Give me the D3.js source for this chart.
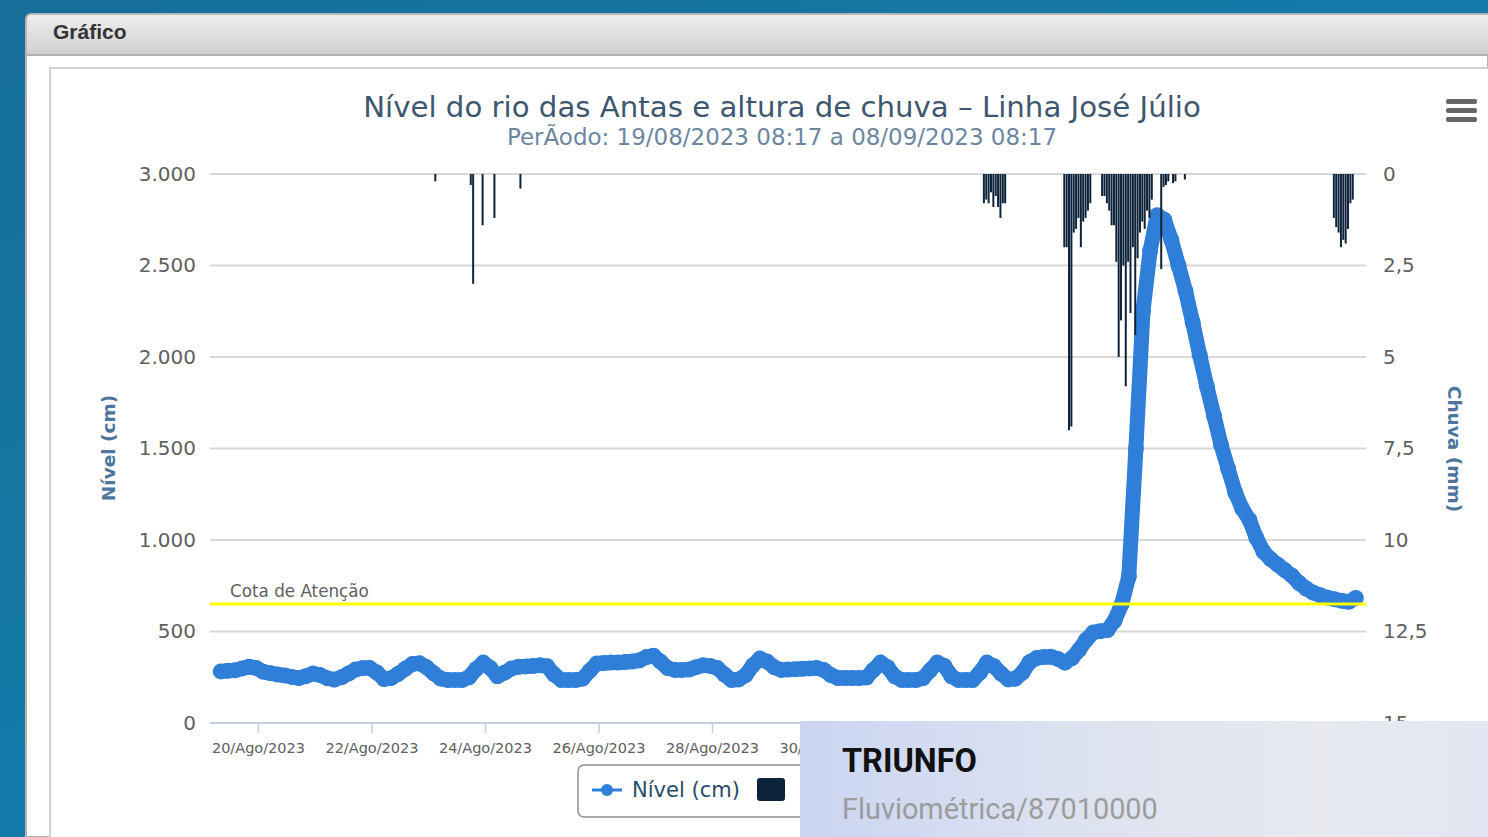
<!DOCTYPE html>
<html lang="pt-BR">
<head>
<meta charset="UTF-8">
<title>Gráfico</title>
<style>
  body { margin: 0; width: 1488px; height: 837px; overflow: hidden; background: #1479a6; }
  svg { display: block; }
</style>
</head>
<body>
<script src="https://cdn.jsdelivr.net/npm/d3@7"></script>
<script>

var titulo = "Nível do rio das Antas e altura de chuva – Linha José Júlio";
var subtitulo = "PerÃodo: 19/08/2023 08:17 a 08/09/2023 08:17";
var inicio = "2023-08-19 08:17", fim = "2023-09-08 08:17";
var passoHoras = 3;

// nivel (cm), one reading every 3 h from the start of the period
var nivelCm = [
  282,285,288,298,308,300,280,272,265,260,
  252,246,256,270,262,245,237,250,270,292,
  300,300,276,240,245,268,296,322,326,305,
  272,243,235,235,235,250,295,330,300,255,
  275,298,307,309,312,315,310,265,235,235,
  235,242,285,325,328,330,330,333,336,342,
  360,368,335,300,290,290,292,305,315,312,
  300,265,235,238,262,315,352,336,305,290,
  292,294,296,298,300,290,262,246,246,246,
  246,248,290,330,305,255,235,235,235,245,
  288,330,312,255,235,235,235,275,330,310,
  270,238,242,275,332,355,360,362,350,330,
  355,400,455,495,502,508,560,650,800,1500,
  2250,2580,2775,2750,2640,2500,2360,2190,2010,1840,
  1680,1520,1390,1260,1170,1110,1010,935,895,865,
  835,805,765,735,712,698,685,676,668,662,
  683
];

// chuva (mm), hourly, only hours with rain
var chuva = [
  ["2023-08-23 03:00",0.2],["2023-08-23 18:00",0.3],["2023-08-23 19:00",3.0],
  ["2023-08-23 23:00",1.4],["2023-08-24 04:00",1.2],["2023-08-24 15:00",0.4],
  ["2023-09-01 19:00",0.8],["2023-09-01 20:00",0.7],["2023-09-01 21:00",0.8],
  ["2023-09-01 22:00",0.5],["2023-09-01 23:00",0.9],["2023-09-02 00:00",0.6],
  ["2023-09-02 01:00",0.9],["2023-09-02 02:00",1.2],["2023-09-02 03:00",0.8],
  ["2023-09-02 04:00",0.8],
  ["2023-09-03 05:00",2.0],["2023-09-03 06:00",2.0],["2023-09-03 07:00",7.0],
  ["2023-09-03 08:00",6.9],["2023-09-03 09:00",1.6],["2023-09-03 10:00",1.5],
  ["2023-09-03 11:00",1.2],["2023-09-03 12:00",2.0],["2023-09-03 13:00",1.3],
  ["2023-09-03 14:00",1.2],["2023-09-03 15:00",1.0],["2023-09-03 16:00",0.8],
  ["2023-09-03 21:00",0.6],["2023-09-03 22:00",0.6],["2023-09-03 23:00",0.8],
  ["2023-09-04 00:00",1.0],["2023-09-04 01:00",1.4],["2023-09-04 02:00",1.4],
  ["2023-09-04 03:00",2.4],["2023-09-04 04:00",5.0],["2023-09-04 05:00",4.0],
  ["2023-09-04 06:00",2.5],["2023-09-04 07:00",5.8],["2023-09-04 08:00",2.4],
  ["2023-09-04 09:00",3.8],["2023-09-04 10:00",2.0],["2023-09-04 11:00",4.4],
  ["2023-09-04 12:00",2.3],["2023-09-04 13:00",1.6],["2023-09-04 14:00",1.3],
  ["2023-09-04 15:00",1.5],["2023-09-04 16:00",1.0],["2023-09-04 17:00",1.2],
  ["2023-09-04 18:00",0.7],
  ["2023-09-04 22:00",2.6],["2023-09-04 23:00",0.35],["2023-09-05 00:00",0.3],
  ["2023-09-05 01:00",0.2],["2023-09-05 03:00",0.25],["2023-09-05 04:00",0.2],
  ["2023-09-05 08:00",0.15],
  ["2023-09-07 23:00",1.2],["2023-09-08 00:00",1.45],["2023-09-08 01:00",1.6],
  ["2023-09-08 02:00",2.0],["2023-09-08 03:00",1.8],["2023-09-08 04:00",1.9],
  ["2023-09-08 05:00",1.5],["2023-09-08 06:00",0.8],["2023-09-08 07:00",0.7]
];

var ticksNivel = [0, 500, 1000, 1500, 2000, 2500, 3000];
var ticksChuva = [0, 2.5, 5, 7.5, 10, 12.5, 15];
var diasX = ["2023-08-20","2023-08-22","2023-08-24","2023-08-26","2023-08-28",
             "2023-08-30","2023-09-01","2023-09-03","2023-09-05","2023-09-07"];
var meses = ["Jan","Fev","Mar","Abr","Mai","Jun","Jul","Ago","Set","Out","Nov","Dez"];
var cotaAtencao = 650;

var W = 1488, H = 837;
var cardX = 800, cardY = 721;
var parse = d3.timeParse("%Y-%m-%d %H:%M");
var parseDia = d3.timeParse("%Y-%m-%d");
var t0 = parse(inicio), t1 = parse(fim);
var br = d3.formatLocale({decimal: ",", thousands: ".", grouping: [3], currency: ["R$", ""]});

var svg = d3.select("body").append("svg").attr("width", W).attr("height", H);
var defs = svg.append("defs");

var bg = defs.append("linearGradient").attr("id", "bg").attr("x1", 0).attr("y1", 0).attr("x2", 1).attr("y2", 1);
bg.append("stop").attr("offset", "0%").attr("stop-color", "#166f99");
bg.append("stop").attr("offset", "100%").attr("stop-color", "#1287b8");
var hd = defs.append("linearGradient").attr("id", "hd").attr("x1", 0).attr("y1", 0).attr("x2", 0).attr("y2", 1);
hd.append("stop").attr("offset", "0%").attr("stop-color", "#eeeeee");
hd.append("stop").attr("offset", "100%").attr("stop-color", "#d0d0d0");
var card = defs.append("linearGradient").attr("id", "card");
card.append("stop").attr("offset", "0%").attr("stop-color", "#cad5f2");
card.append("stop").attr("offset", "40%").attr("stop-color", "#dde2f0");
card.append("stop").attr("offset", "75%").attr("stop-color", "#e7e9ef");
card.append("stop").attr("offset", "100%").attr("stop-color", "#e2e7f3");

svg.append("rect").attr("width", W).attr("height", H).attr("fill", "url(#bg)");

// panel
svg.append("path")
  .attr("d", "M26,837 L26,20 Q26,14 32,14 L1488,14 L1488,837 Z")
  .attr("fill", "#fff").attr("stroke", "#b5b5b5").attr("stroke-width", 2);
svg.append("path")
  .attr("d", "M27,55 L27,20 Q27,15 32,15 L1488,15 L1488,55 Z")
  .attr("fill", "url(#hd)");
svg.append("line").attr("x1", 27).attr("x2", W).attr("y1", 55).attr("y2", 55)
  .attr("stroke", "#b0b0b0").attr("stroke-width", 2);
svg.append("text").attr("x", 53).attr("y", 39)
  .attr("font-family", "Liberation Sans, Arial, sans-serif").attr("font-weight", "bold")
  .attr("font-size", 21).attr("fill", "#333").text("Gráfico");

svg.append("rect").attr("x", 50).attr("y", 68).attr("width", 1460).attr("height", 800)
  .attr("fill", "#fff").attr("stroke", "#d2d2d2").attr("stroke-width", 2);

var font = "DejaVu Sans, Verdana, sans-serif";

function ajustar(sel, largura) {
  var fs = parseFloat(sel.attr("font-size"));
  var w = sel.node().getComputedTextLength();
  sel.attr("font-size", (fs * largura / w).toFixed(2));
}

// titles
var tt = svg.append("text").attr("x", 782).attr("y", 117).attr("text-anchor", "middle")
  .attr("font-family", font).attr("font-size", 24).attr("fill", "#3e576f").text(titulo);
ajustar(tt, 838);
var st = svg.append("text").attr("x", 782).attr("y", 145).attr("text-anchor", "middle")
  .attr("font-family", font).attr("font-size", 16).attr("fill", "#6d869f").text(subtitulo);
ajustar(st, 550);

// menu icon
[99, 108, 117].forEach(function (y) {
  svg.append("rect").attr("x", 1446).attr("y", y).attr("width", 31).attr("height", 5)
    .attr("rx", 2).attr("fill", "#666");
});

// scales
var plotL = 210, plotR = 1366;
var x = d3.scaleTime().domain([t0, t1]).range([220.8, 1355.8]);
var y = d3.scaleLinear().domain([0, 3000]).range([723, 174]);
var y2 = d3.scaleLinear().domain([0, 15]).range([174, 723]);

// grid
svg.append("g").selectAll("line").data(ticksNivel.slice(1)).join("line")
  .attr("x1", plotL).attr("x2", plotR)
  .attr("y1", function (d) { return y(d); }).attr("y2", function (d) { return y(d); })
  .attr("stroke", "#d8d8d8").attr("stroke-width", 2);

// left axis
var axL = svg.append("g").attr("transform", "translate(" + 196 + ",0)")
  .call(d3.axisLeft(y).tickValues(ticksNivel).tickSize(0).tickPadding(0).tickFormat(br.format(",")));
axL.select(".domain").remove();
axL.selectAll("text").attr("font-family", font).attr("font-size", 20).attr("fill", "#606060");

// right axis (15 sits under the station card, only the top of it shows)
var axR = svg.append("g").attr("transform", "translate(" + 1383 + ",0)")
  .call(d3.axisRight(y2).tickValues(ticksChuva).tickSize(0).tickPadding(0)
    .tickFormat(function (d) { return br.format("")(d); }));
axR.select(".domain").remove();
axR.selectAll("text").attr("font-family", font).attr("font-size", 20).attr("fill", "#606060");

// bottom axis; labels that start under the station card are left out
var diasVisiveis = diasX.map(parseDia).filter(function (d) { return x(d) - 47 < cardX; });
var axB = svg.append("g").attr("transform", "translate(0,723)")
  .call(d3.axisBottom(x).tickValues(diasVisiveis).tickSize(10).tickPadding(10)
    .tickFormat(function (d) { return d3.timeFormat("%d")(d) + "/" + meses[d.getMonth()] + "/" + d.getFullYear(); }));
axB.select(".domain").attr("d", "M" + plotL + ",0H" + plotR).attr("stroke", "#c0d0e0").attr("stroke-width", 2);
axB.selectAll(".tick line").attr("stroke", "#c0d0e0").attr("stroke-width", 1.5);
axB.selectAll("text").attr("font-family", font).attr("font-size", 14.5).attr("fill", "#606060");

// axis titles
svg.append("text").attr("transform", "translate(115,448) rotate(-90)").attr("text-anchor", "middle")
  .attr("font-family", font).attr("font-weight", "bold").attr("font-size", 18.5)
  .attr("fill", "#4d759e").text("Nível (cm)");
svg.append("text").attr("transform", "translate(1448,449) rotate(90)").attr("text-anchor", "middle")
  .attr("font-family", font).attr("font-weight", "bold").attr("font-size", 18.5)
  .attr("fill", "#4d759e").text("Chuva (mm)");

// nivel series
var nivel = nivelCm.map(function (v, i) { return {t: d3.timeHour.offset(t0, i * passoHoras), v: v}; });
var linha = d3.line().x(function (d) { return x(d.t); }).y(function (d) { return y(d.v); });
svg.append("path").datum(nivel).attr("d", linha).attr("fill", "none")
  .attr("stroke", "#2f7ed8").attr("stroke-width", 15)
  .attr("stroke-linejoin", "round").attr("stroke-linecap", "round");
svg.append("g").selectAll("circle").data(nivel).join("circle")
  .attr("cx", function (d) { return x(d.t); }).attr("cy", function (d) { return y(d.v); })
  .attr("r", 8).attr("fill", "#2f7ed8");

// chuva series
svg.append("g").selectAll("rect").data(chuva).join("rect")
  .attr("x", function (d) { return x(parse(d[0])) - 1; })
  .attr("y", y2(0))
  .attr("width", 2)
  .attr("height", function (d) { return y2(d[1]) - y2(0); })
  .attr("fill", "#0d233a");

// cota de atencao
svg.append("line").attr("x1", plotL).attr("x2", plotR)
  .attr("y1", y(cotaAtencao)).attr("y2", y(cotaAtencao))
  .attr("stroke", "#ffff00").attr("stroke-width", 3);
var ct = svg.append("text").attr("x", 230).attr("y", y(cotaAtencao) - 7)
  .attr("font-family", font).attr("font-size", 15).attr("fill", "#606060").text("Cota de Atenção");
ajustar(ct, 139);

// legend (its second label lies under the station card)
var lg = svg.append("g");
lg.append("rect").attr("x", 578).attr("y", 765).attr("width", 430).attr("height", 52).attr("rx", 6)
  .attr("fill", "#fff").attr("stroke", "#909090").attr("stroke-width", 1.5);
lg.append("line").attr("x1", 592).attr("x2", 622).attr("y1", 790).attr("y2", 790)
  .attr("stroke", "#2f7ed8").attr("stroke-width", 3);
lg.append("circle").attr("cx", 607).attr("cy", 790).attr("r", 6).attr("fill", "#2f7ed8");
var l1 = lg.append("text").attr("x", 632).attr("y", 797).attr("font-family", font)
  .attr("font-size", 20).attr("fill", "#274b6d").text("Nível (cm)");
ajustar(l1, 108);
lg.append("rect").attr("x", 757).attr("y", 778).attr("width", 28).attr("height", 23).attr("rx", 3)
  .attr("fill", "#0d233a");

// station card over the chart
svg.append("rect").attr("x", cardX).attr("y", cardY).attr("width", W - cardX).attr("height", H - cardY)
  .attr("fill", "url(#card)");
var c1 = svg.append("text").attr("x", 842).attr("y", 772)
  .attr("font-family", "Roboto, sans-serif").attr("font-weight", "bold")
  .attr("font-size", 30).attr("fill", "#111").text("TRIUNFO");
ajustar(c1, 135);
var c2 = svg.append("text").attr("x", 842).attr("y", 819)
  .attr("font-family", "Roboto, sans-serif").attr("font-size", 28)
  .attr("fill", "#9c9c9c").text("Fluviométrica/87010000");
ajustar(c2, 316);

</script>
</body>
</html>
